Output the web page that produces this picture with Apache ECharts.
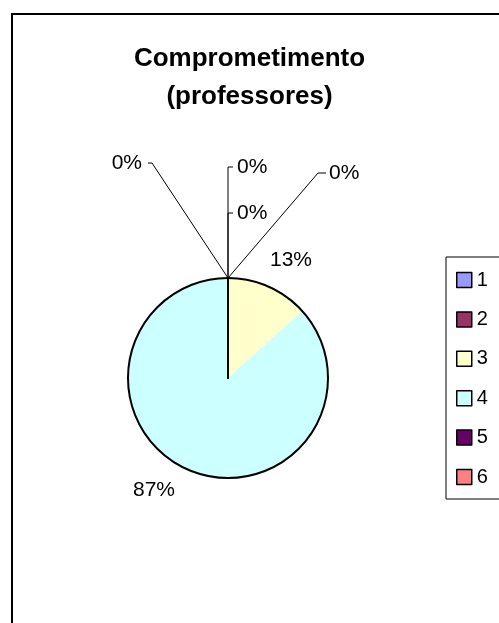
<!DOCTYPE html>
<html>
<head>
<meta charset="utf-8">
<script src="https://cdn.jsdelivr.net/npm/echarts@6/dist/echarts.min.js"></script>
<style>
html, body { margin: 0; padding: 0; background: #fff; }
#chart { width: 499px; height: 623px; }
</style>
</head>
<body>
<div id="chart"></div>
<script>
// answers per level (1..6)
const categories = ['1', '2', '3', '4', '5', '6'];
const counts = [0, 0, 2, 13, 0, 0];
const sliceColors = ['#9999FF', '#993366', '#FFFFCC', '#CCFFFF', '#660066', '#FF8080'];
const chartTitle = 'Comprometimento\n(professores)';

const font = '"Liberation Sans", Arial, sans-serif';
const cx = 228, cy = 378, r = 100;
const pieTop = [cx, cy - r];

// labels were dragged around by hand in the original, offsets from the pie top
const labelSpots = [
  { at: [-86, -115], align: 'right', line: [[-76, -115], [-80, -115]] },
  { at: [9, -111], align: 'left', line: [[0, -111], [5, -111]] },
  { at: [42, -18], align: 'left' },
  { at: [-95, 212], align: 'left' },
  { at: [9, -65], align: 'left', line: [[0, -65], [5, -65]] },
  { at: [101, -105], align: 'left', line: [[90, -105], [98, -105]] }
];

let myChart = echarts.init(document.getElementById('chart'))

let options = {
  animation: false,
  title: {
    text: chartTitle,
    left: 'center',
    top: 35,
    textStyle: {
      fontFamily: font,
      fontSize: 26,
      fontWeight: 'bold',
      lineHeight: 38,
      color: '#000'
    }
  },
  legend: {
    orient: 'vertical',
    left: 446,
    top: 257,
    padding: [13, 60, 12, 10],
    borderColor: '#000',
    borderWidth: 1,
    itemWidth: 15,
    itemHeight: 15,
    itemGap: 19.4,
    icon: 'rect',
    selectedMode: false,
    itemStyle: {
      borderColor: '#000',
      borderWidth: 1.5
    },
    textStyle: {
      fontFamily: font,
      fontSize: 20,
      lineHeight: 20,
      color: '#000'
    },
    data: categories
  },
  graphic: [
    {
      type: 'rect',
      z: -1,
      shape: { x: 12, y: 14, width: 700, height: 800 },
      style: { fill: 'none', stroke: '#000', lineWidth: 2 }
    }
  ],
  series: [
    {
      type: 'pie',
      center: [cx, cy],
      radius: r,
      startAngle: 90,
      clockwise: true,
      avoidLabelOverlap: false,
      percentPrecision: 0,
      emphasis: { disabled: true },
      label: {
        position: 'outside',
        formatter: '{d}%',
        fontFamily: font,
        fontSize: 21,
        color: '#000'
      },
      labelLine: {
        show: true,
        lineStyle: { color: '#000', width: 1 }
      },
      itemStyle: {
        borderColor: '#000'
      },
      data: categories.map((name, i) => ({
        name: name,
        value: counts[i],
        itemStyle: {
          color: sliceColors[i],
          borderWidth: counts[i] ? 0 : 2
        },
        labelLine: { show: !!labelSpots[i].line }
      })),
      labelLayout: function (p) {
        let s = labelSpots[p.dataIndex]
        let out = {
          x: pieTop[0] + s.at[0],
          y: pieTop[1] + s.at[1],
          align: s.align,
          verticalAlign: 'middle'
        }
        if (s.line) {
          out.labelLinePoints = [pieTop.slice()].concat(
            s.line.map(o => [pieTop[0] + o[0], pieTop[1] + o[1]])
          )
        }
        return out
      }
    },
    {
      // outer black ring of the pie
      type: 'pie',
      center: [cx, cy],
      radius: r,
      silent: true,
      z: 3,
      label: { show: false },
      labelLine: { show: false },
      itemStyle: {
        color: 'transparent',
        borderColor: '#000',
        borderWidth: 2
      },
      data: [{ name: 'outline', value: 1 }]
    }
  ]
}

myChart.setOption(options)
</script>
</body>
</html>
